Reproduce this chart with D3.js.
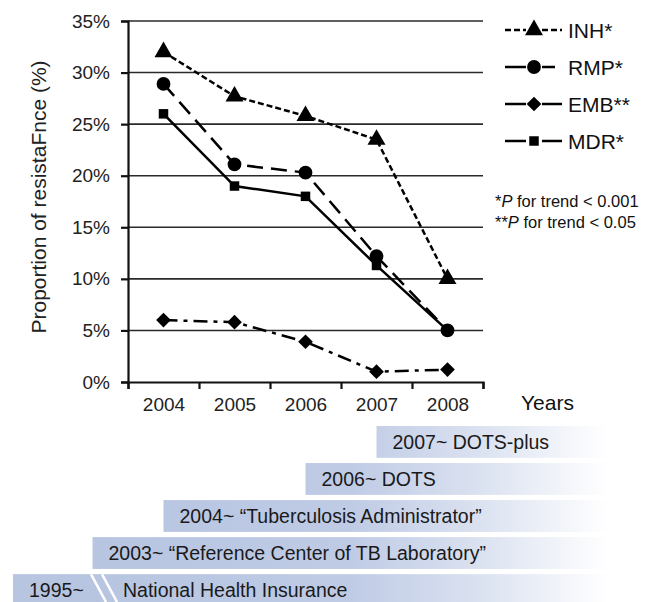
<!DOCTYPE html>
<html>
<head>
<meta charset="utf-8">
<script src="https://cdn.jsdelivr.net/npm/d3@7"></script>
<style>
  body { margin: 0; background: #fff; }
  text { font-family: "Liberation Sans", Arial, sans-serif; fill: #111; }
</style>
</head>
<body>
<script>
// data
const years = [2004, 2005, 2006, 2007, 2008];
const inh = [32.0, 27.7, 25.8, 23.5, 10.0];
const rmp = [28.9, 21.1, 20.3, 12.2, 5.0];
const emb = [6.0, 5.8, 3.9, 1.0, 1.2];
const mdr = [26.0, 19.0, 18.0, 11.3, 5.0];
const seriesNames = ["INH*", "RMP*", "EMB**", "MDR*"];
const yTicks = [0, 5, 10, 15, 20, 25, 30, 35];

// programs shown under the chart
const progLabels = ["2007~ DOTS-plus", "2006~ DOTS", "2004~ \u201CTuberculosis Administrator\u201D",
  "2003~ \u201CReference Center of TB Laboratory\u201D", "National Health Insurance"];
const progStart = [2007, 2006, 2004, 2003, 1995];

const w = 648, h = 602;
const svg = d3.select("body").append("svg").attr("width", w).attr("height", h);

// plot area
const plotLeft = 128, plotRight = 483, plotTop = 21, plotBottom = 382;

const x = d3.scaleLinear().domain([2003.5, 2008.5]).range([plotLeft, plotRight]);
const y = d3.scaleLinear().domain([0, 35]).range([plotBottom, plotTop]);

// gridlines
svg.append("g").selectAll("line")
  .data(yTicks.filter(d => d > 0))
  .enter().append("line")
  .attr("x1", plotLeft).attr("x2", plotRight)
  .attr("y1", d => y(d)).attr("y2", d => y(d))
  .attr("stroke", "#2a2a2a").attr("stroke-width", 1.6);

// y axis
const yAxis = svg.append("g")
  .attr("transform", "translate(" + plotLeft + ",0)")
  .call(d3.axisLeft(y).tickValues(yTicks).tickFormat(d => d + "%").tickSize(7).tickPadding(11));
yAxis.selectAll("text").style("font-size", "19px").style("fill", "#222");
yAxis.selectAll("line,path").attr("stroke", "#111").attr("stroke-width", 2.2);

// x axis - ticks between years, labels in the middle
const xAxis = svg.append("g")
  .attr("transform", "translate(0," + plotBottom + ")")
  .call(d3.axisBottom(x).tickValues([2003.5, 2004.5, 2005.5, 2006.5, 2007.5, 2008.5]).tickFormat("").tickSize(7));
xAxis.selectAll("line,path").attr("stroke", "#111").attr("stroke-width", 2.2);

const xLab = svg.append("g")
  .attr("transform", "translate(0," + plotBottom + ")")
  .call(d3.axisBottom(x).tickValues(years).tickFormat(d3.format("d")).tickSize(0).tickPadding(16));
xLab.select(".domain").remove();
xLab.selectAll("text").style("font-size", "19px").style("fill", "#222");

svg.append("text").attr("x", 521).attr("y", 410).style("font-size", "21px").text("Years");

svg.append("text")
  .attr("transform", "translate(46,197) rotate(-90)")
  .attr("text-anchor", "middle")
  .style("font-size", "21px")
  .style("fill", "#222")
  .text("Proportion of resistaFnce (%)");

// series
const diamond = d3.symbol().type(d3.symbolSquare).size(108);
const series = [
  { name: seriesNames[0], values: inh, dash: "6,3", legDash: "6,3", sym: d3.symbol().type(d3.symbolTriangle).size(140), rot: 0 },
  { name: seriesNames[1], values: rmp, dash: "16,8", legDash: null, sym: d3.symbol().type(d3.symbolCircle).size(150), rot: 0 },
  { name: seriesNames[2], values: emb, dash: "14,6,4,6", legDash: null, sym: diamond, rot: 45 },
  { name: seriesNames[3], values: mdr, dash: null, legDash: null, sym: d3.symbol().type(d3.symbolSquare).size(90), rot: 0 }
];

const line = d3.line().x((d, i) => x(years[i])).y(d => y(d));

series.forEach(function (s) {
  svg.append("path")
    .attr("d", line(s.values))
    .attr("fill", "none")
    .attr("stroke", "#000")
    .attr("stroke-width", 2.5)
    .attr("stroke-dasharray", s.dash);
  svg.append("g").selectAll("path")
    .data(s.values)
    .enter().append("path")
    .attr("transform", (d, i) => "translate(" + x(years[i]) + "," + y(d) + ") rotate(" + s.rot + ")")
    .attr("d", s.sym)
    .attr("fill", "#000");
});

// legend
const legY = [30, 67, 104, 141];
series.forEach(function (s, i) {
  const g = svg.append("g").attr("transform", "translate(0," + legY[i] + ")");
  g.append("line").attr("x1", 505).attr("x2", 526).attr("stroke", "#000")
    .attr("stroke-width", 2.5).attr("stroke-dasharray", s.legDash);
  g.append("line").attr("x1", 542).attr("x2", i === 1 ? 555 : 562).attr("stroke", "#000")
    .attr("stroke-width", 2.5).attr("stroke-dasharray", s.legDash);
  g.append("path").attr("transform", "translate(534,0) rotate(" + s.rot + ")")
    .attr("d", s.sym).attr("fill", "#000");
  g.append("text").attr("x", 568).attr("y", 7.5).style("font-size", "21px").text(s.name);
});

// significance notes
const note1 = svg.append("text").attr("x", 495).attr("y", 207).style("font-size", "16.5px");
note1.append("tspan").text("*");
note1.append("tspan").style("font-style", "italic").text("P");
note1.append("tspan").text(" for trend < 0.001");
const note2 = svg.append("text").attr("x", 495).attr("y", 228).style("font-size", "16.5px");
note2.append("tspan").text("**");
note2.append("tspan").style("font-style", "italic").text("P");
note2.append("tspan").text(" for trend < 0.05");

// timeline bars
const defs = svg.append("defs");
const grad = defs.append("linearGradient").attr("id", "fade")
  .attr("gradientUnits", "userSpaceOnUse")
  .attr("x1", 90).attr("x2", 608).attr("y1", 0).attr("y2", 0);
grad.append("stop").attr("offset", "0").attr("stop-color", "#b7c5e1");
grad.append("stop").attr("offset", "0.5").attr("stop-color", "#bfcbe5");
grad.append("stop").attr("offset", "0.75").attr("stop-color", "#dae1f0");
grad.append("stop").attr("offset", "1").attr("stop-color", "#ffffff");

const rowY = d3.scaleBand().domain(progLabels).range([426, 606]).paddingInner(0.14);
const barEnd = 608;

function startX(yr) {
  // 1995 sits on the far side of the axis break
  return yr < 2003 ? 13 : x(yr);
}

svg.append("g").selectAll("rect")
  .data(progLabels)
  .enter().append("rect")
  .attr("x", (d, i) => startX(progStart[i]))
  .attr("y", d => rowY(d))
  .attr("width", (d, i) => barEnd - startX(progStart[i]))
  .attr("height", rowY.bandwidth())
  .attr("fill", "url(#fade)");

// axis break marks on the bottom bar
const lastY = rowY(progLabels[4]);
[91, 102].forEach(function (bx) {
  svg.append("line")
    .attr("x1", bx).attr("y1", lastY)
    .attr("x2", bx + 15).attr("y2", h)
    .attr("stroke", "#fff").attr("stroke-width", 2.5);
});

svg.append("g").selectAll("text")
  .data(progLabels)
  .enter().append("text")
  .attr("x", (d, i) => (progStart[i] < 2003 ? 123 : startX(progStart[i]) + 16))
  .attr("y", d => rowY(d) + rowY.bandwidth() / 2 + 7)
  .style("font-size", "19.5px")
  .style("fill", "#1a1a1a")
  .text(d => d);

svg.append("text")
  .attr("x", 29).attr("y", lastY + rowY.bandwidth() / 2 + 7)
  .style("font-size", "19.5px").style("fill", "#1a1a1a")
  .text(progStart[4] + "~");
</script>
</body>
</html>
